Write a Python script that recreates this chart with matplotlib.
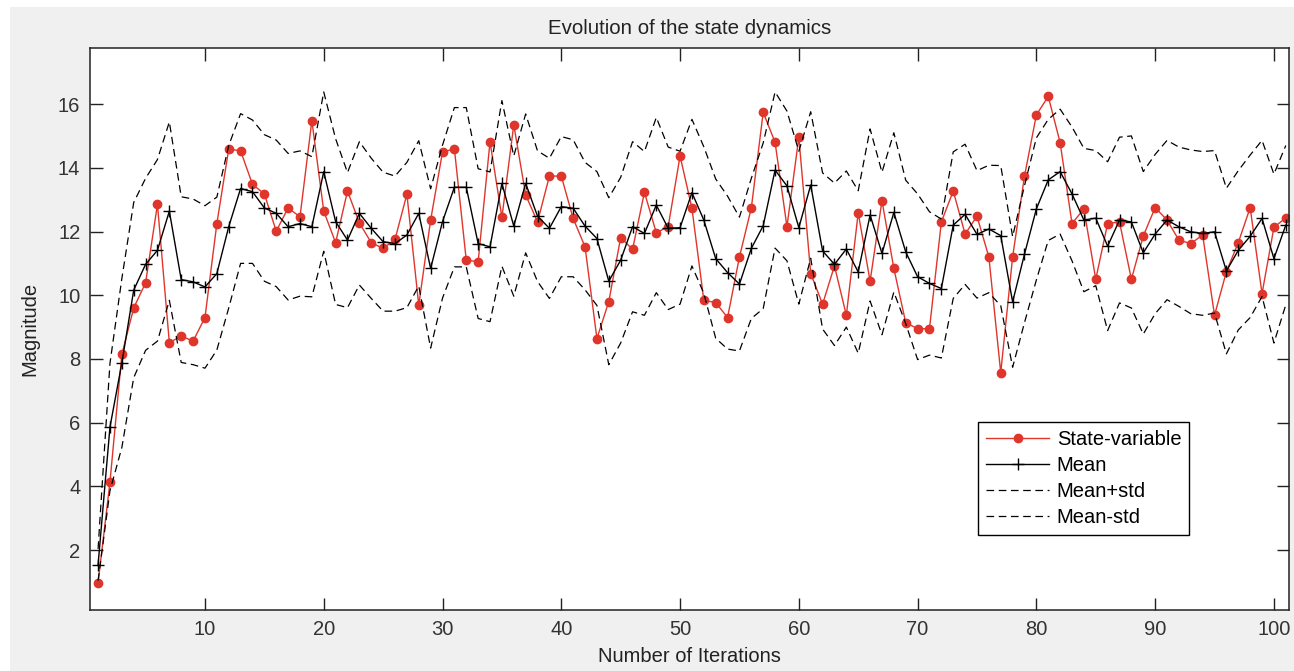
import numpy as np
import matplotlib
matplotlib.use("Agg")
import matplotlib.pyplot as plt
from matplotlib.patches import Rectangle

# values, iterations 1..101
state_variable = [
    0.98, 4.13, 8.14, 9.60, 10.39, 12.85, 8.51, 8.72, 8.56, 9.30,
    12.25, 14.59, 14.53, 13.48, 13.18, 12.01, 12.74, 12.46, 15.48, 12.64,
    11.65, 13.27, 12.27, 11.65, 11.47, 11.75, 13.17, 9.69, 12.36, 14.50,
    14.59, 11.10, 11.05, 14.82, 12.44, 15.35, 13.15, 12.30, 13.74, 13.74,
    12.41, 11.52, 8.64, 9.80, 11.81, 11.44, 13.23, 11.96, 12.15, 14.37,
    12.73, 9.84, 9.77, 9.30, 11.20, 12.74, 15.74, 14.80, 12.15, 14.96,
    10.68, 9.72, 10.92, 9.37, 12.59, 10.44, 12.97, 10.84, 9.14, 8.95,
    8.95, 12.30, 13.27, 11.92, 12.48, 11.20, 7.57, 11.20, 13.74, 15.66,
    16.24, 14.79, 12.25, 12.71, 10.50, 12.25, 12.30, 10.50, 11.86, 12.75,
    12.36, 11.73, 11.62, 11.89, 9.37, 10.74, 11.65, 12.75, 10.05, 12.13,
    12.43,
]

mean_values = [
    1.54, 5.86, 7.87, 10.16, 10.97, 11.41, 12.64, 10.49, 10.42, 10.26,
    10.68, 12.15, 13.35, 13.25, 12.74, 12.57, 12.15, 12.25, 12.15, 13.88,
    12.31, 11.73, 12.57, 12.10, 11.68, 11.62, 11.89, 12.57, 10.84, 12.31,
    13.39, 13.39, 11.62, 11.52, 13.51, 12.17, 13.51, 12.48, 12.10, 12.78,
    12.73, 12.17, 11.78, 10.44, 11.10, 12.15, 11.94, 12.83, 12.10, 12.12,
    13.22, 12.36, 11.15, 10.71, 10.35, 11.47, 12.18, 13.93, 13.43, 12.12,
    13.46, 11.39, 10.97, 11.45, 10.73, 12.52, 11.31, 12.60, 11.36, 10.58,
    10.37, 10.21, 12.20, 12.54, 11.91, 12.08, 11.87, 9.79, 11.29, 12.71,
    13.62, 13.88, 13.18, 12.36, 12.42, 11.54, 12.36, 12.30, 11.33, 11.92,
    12.36, 12.15, 11.99, 11.94, 11.99, 10.76, 11.41, 11.85, 12.41, 11.15,
    12.20,
]

std_values = [
    0.50, 2.00, 2.65, 2.75, 2.70, 2.85, 2.80, 2.60, 2.60, 2.55,
    2.40, 2.55, 2.35, 2.25, 2.30, 2.30, 2.30, 2.28, 2.20, 2.50,
    2.60, 2.12, 2.25, 2.20, 2.18, 2.12, 2.28, 2.28, 2.50, 2.40,
    2.50, 2.50, 2.35, 2.35, 2.60, 2.20, 2.18, 2.05, 2.20, 2.20,
    2.15, 2.00, 2.10, 2.62, 2.60, 2.67, 2.57, 2.75, 2.55, 2.40,
    2.30, 2.30, 2.50, 2.40, 2.10, 2.20, 2.60, 2.45, 2.35, 2.40,
    2.30, 2.45, 2.55, 2.45, 2.55, 2.70, 2.55, 2.50, 2.25, 2.60,
    2.25, 2.18, 2.30, 2.20, 2.00, 2.00, 2.20, 2.05, 2.15, 2.23,
    1.90, 1.96, 2.10, 2.25, 2.12, 2.65, 2.60, 2.70, 2.55, 2.50,
    2.50, 2.50, 2.57, 2.57, 2.55, 2.60, 2.50, 2.55, 2.45, 2.65,
    2.50,
]

iterations = np.arange(1, len(state_variable) + 1)
mean_arr = np.array(mean_values)
std_arr = np.array(std_values)

plt.rcParams['font.family'] = ['Liberation Sans', 'DejaVu Sans']
plt.rcParams['font.size'] = 14.5
plt.rcParams['lines.scale_dashes'] = False

fig = plt.figure(figsize=(12.94, 6.71), dpi=100, facecolor='white')
# grey MATLAB-like figure background with a thin white margin
fig.patches.append(Rectangle((10 / 1294, 0), 1, (671 - 7) / 671,
                             transform=fig.transFigure, facecolor='#f0f0f0',
                             edgecolor='none', zorder=-10))

ax = fig.add_axes([90 / 1294, 61 / 671, 1199 / 1294, 562 / 671])
ax.set_facecolor('white')

red = '#e0352b'
ax.plot(iterations, state_variable, color=red, lw=1.0, marker='o',
        markersize=6, markerfacecolor=red, markeredgecolor=red,
        label='State-variable')
ax.plot(iterations, mean_arr, color='black', lw=1.0, marker='+',
        markersize=8.5, markeredgewidth=1.0, label='Mean')
ax.plot(iterations, mean_arr + std_arr, color='black', lw=0.9,
        linestyle=(0, (5.5, 3.3)), label='Mean+std')
ax.plot(iterations, mean_arr - std_arr, color='black', lw=0.9,
        linestyle=(0, (5.5, 3.3)), label='Mean-std')

ax.set_xlim(0.32, 101.27)
ax.set_ylim(0.12, 17.76)
ax.set_xticks(np.arange(10, 101, 10))
ax.set_yticks(np.arange(2, 17, 2))
ax.tick_params(direction='in', length=9, width=1.0, top=True, right=True,
               pad=7, colors='#222222', labelcolor='#333333')
for s in ax.spines.values():
    s.set_linewidth(1.1)
    s.set_color('#222222')

ax.set_title('Evolution of the state dynamics', pad=10, color='#222222',
             fontsize=14.8)
ax.set_xlabel('Number of Iterations', labelpad=6, color='#222222')
ax.set_ylabel('Magnitude', labelpad=13, color='#222222')

leg = ax.legend(loc='lower right', bbox_to_anchor=(0.917, 0.133),
                borderaxespad=0, fancybox=False, framealpha=1,
                edgecolor='black', handlelength=3.1, handletextpad=0.4,
                labelspacing=0.35, borderpad=0.4)
leg.get_frame().set_linewidth(1.0)

fig.savefig('out.png', dpi=100, facecolor=fig.get_facecolor())
